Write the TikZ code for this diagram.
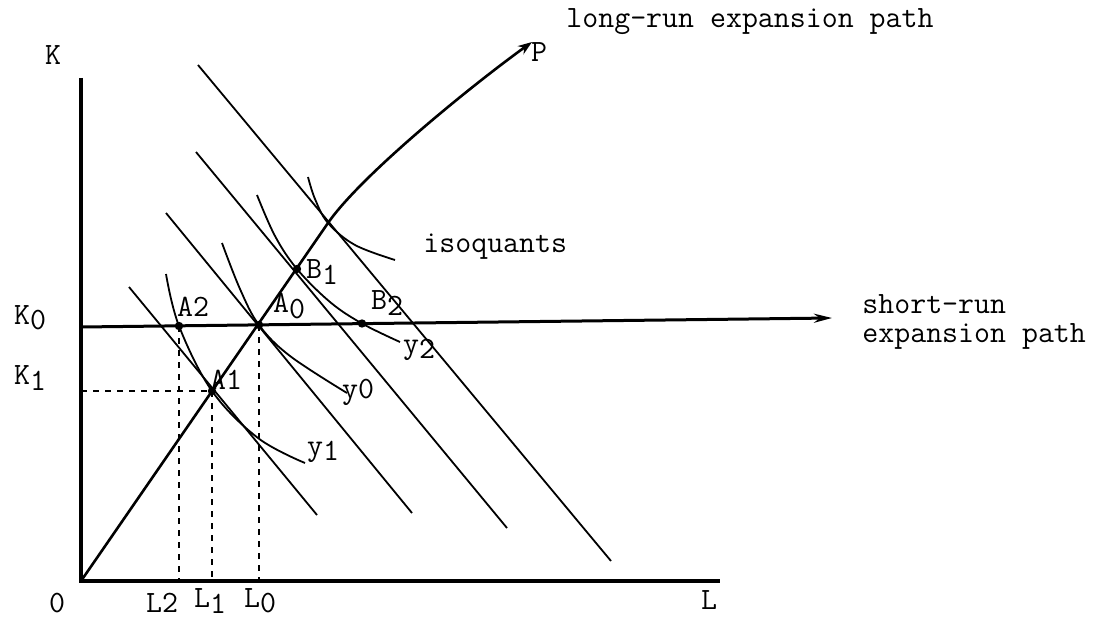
\documentclass[tikz,border=0pt]{standalone}
\usetikzlibrary{arrows.meta}
\newcommand\sbx[1]{\raisebox{-2.6pt}{#1}}
\begin{document}
\begin{tikzpicture}[x=0.5pt,y=-0.5pt,
  axis/.style={line width=1.7pt},
  isocost/.style={line width=0.9pt},
  quant/.style={line width=0.9pt},
  lrpath/.style={line width=1.3pt},
  srpath/.style={line width=1.5pt},
  dashline/.style={line width=0.8pt, dash pattern=on 3pt off 3pt},
  lbl/.style={font=\fontsize{15.5}{14.5}\selectfont\ttfamily, inner sep=0pt},
  dotmark/.style={fill=black}
]
\fill[white] (0,0) rectangle (1102,620);
\path[use as bounding box] (0,0) rectangle (1102,620);

% key points
\coordinate (O) at (81,581);
\coordinate (Ktop) at (81,78);
\coordinate (Lend) at (720,581);
\coordinate (K0s) at (81,327);
\coordinate (K0e) at (832,318);
\coordinate (K1s) at (81,391);
\coordinate (A0) at (259,325);
\coordinate (A1) at (212,391);
\coordinate (A2) at (179,326);
\coordinate (B1) at (297,269);
\coordinate (B2) at (362,323.5);
\coordinate (T) at (328,223);
\coordinate (Ptip) at (532,42);

% axes
\draw[axis] (Ktop) -- (O) -- (Lend);

% isocost lines
\coordinate (c1a) at (129,287); \coordinate (c1b) at (317,515);
\coordinate (c2a) at (166,213); \coordinate (c2b) at (412,513);
\coordinate (c3a) at (196,152); \coordinate (c3b) at (507,528);
\coordinate (c4a) at (198,65);  \coordinate (c4b) at (611,561);
\draw[isocost] (c1a) -- (c1b);
\draw[isocost] (c2a) -- (c2b);
\draw[isocost] (c3a) -- (c3b);
\draw[isocost] (c4a) -- (c4b);

% isoquants
\draw[quant] plot[smooth, tension=0.6] coordinates {(166,274) (179,326) (212,391) (258,438) (305,463)};
\draw[quant] plot[smooth, tension=0.6] coordinates {(222,243) (240,289) (259,325) (290,356) (347,393)};
\draw[quant] plot[smooth, tension=0.6] coordinates {(257,195) (275,236) (297,269) (330,302) (362,323.5) (400,342)};
\draw[quant] plot[smooth, tension=0.6] coordinates {(308,177) (315,199) (328,223) (355,245) (395,260)};

% short-run expansion path
\draw[srpath, -{Stealth[length=9pt,width=4.5pt]}] (K0s) -- (K0e);

% long-run expansion path
\draw[lrpath, -{Stealth[length=7pt,width=5pt]}] (O) -- (T) .. controls (362,174) and (475,83) .. (Ptip);

% dashed guides
\draw[dashline] (K1s) -- (A1);
\draw[dashline] (A2) -- (A2 |- O);
\draw[dashline] (A1) -- (A1 |- O);
\draw[dashline] (A0) -- (A0 |- O);

% dots
\foreach \p in {A0,A1,A2,B1,B2} \fill[dotmark] (\p) circle[radius=2.1pt];

% labels
\node[lbl] (lK) at (53,55) {K};
\node[lbl] (lK0) at (30,318) {K\sbx{0}};
\node[lbl] (lK1) at (30,378) {K\sbx{1}};
\node[lbl] (lO) at (57,603) {0};
\node[lbl] (lL2) at (162,603) {L2};
\node[lbl] (lL1) at (210,601) {L\sbx{1}};
\node[lbl] (lL0) at (260,601) {L\sbx{0}};
\node[lbl] (lL) at (709,600) {L};
\node[lbl] (lA2) at (193,307) {A2};
\node[lbl] (lA0) at (289,306) {A\sbx{0}};
\node[lbl] (lA1) at (226,380) {A1};
\node[lbl] (lB1) at (322,272) {B\sbx{1}};
\node[lbl] (lB2) at (387,303) {B\sbx{2}};
\node[lbl] (ly0) at (358,392) {y0};
\node[lbl] (ly1) at (323,452) {y\sbx{1}};
\node[lbl] (ly2) at (419,350) {y\sbx{2}};
\node[lbl] (lP) at (539,52) {P};
\node[lbl, anchor=west] (lisoq) at (423,247) {isoquants};
\node[lbl, anchor=west] (llr) at (566,22) {long-run expansion path};
\node[lbl, anchor=west, align=left] (lsr) at (862,322) {short-run\\expansion path};
\end{tikzpicture}
\end{document}
